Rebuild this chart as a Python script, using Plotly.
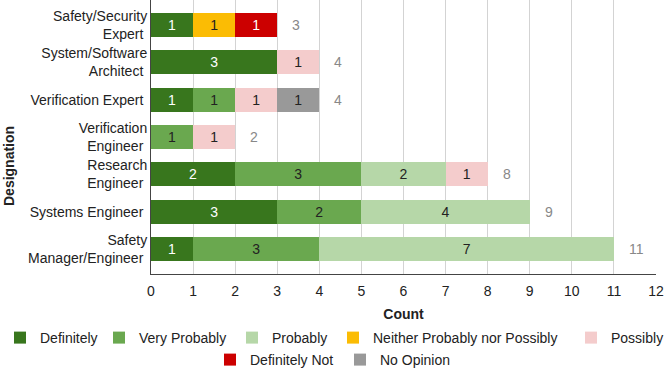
import plotly.graph_objects as go

designations = ['Safety/Security<br>Expert', 'System/Software<br>Architect', 'Verification Expert',
                'Verification<br>Engineer', 'Research<br>Engineer', 'Systems Engineer',
                'Safety<br>Manager/Engineer']
definitely = [1, 3, 1, 0, 2, 3, 1]
very_probably = [0, 0, 1, 1, 3, 2, 3]
probably = [0, 0, 0, 0, 2, 4, 7]
neither = [1, 0, 0, 0, 0, 0, 0]
possibly = [0, 1, 1, 1, 1, 0, 0]
definitely_not = [1, 0, 0, 0, 0, 0, 0]
no_opinion = [0, 0, 1, 0, 0, 0, 0]

series = [
    ('Definitely', definitely, '#38761d', 'white'),
    ('Very Probably', very_probably, '#6aa84f', '#222222'),
    ('Probably', probably, '#b6d7a8', '#222222'),
    ('Neither Probably nor Possibly', neither, '#fbbc04', '#222222'),
    ('Possibly', possibly, '#f4cccc', '#222222'),
    ('Definitely Not', definitely_not, '#cc0000', 'white'),
    ('No Opinion', no_opinion, '#999999', '#222222'),
]

# legend swatch positions (px) - one legend per entry, two centred rows
leg_left = [14, 113, 246, 347, 585, 224, 354]
leg_row = [338, 338, 338, 338, 338, 360, 360]

font = 'Arial, Liberation Sans, sans-serif'
W, H = 664, 368
L, R, T, B = 151, 8, 0, 94
pw, ph = W - L - R, H - T - B

fig = go.Figure()
legends = {}
for i, (name, vals, color, tcolor) in enumerate(series):
    key = 'legend' if i == 0 else f'legend{i + 1}'
    fig.add_trace(go.Bar(
        y=designations, x=vals, name=name, orientation='h',
        marker=dict(color=color, line=dict(width=0)),
        text=[str(v) if v else '' for v in vals], textposition='inside',
        insidetextanchor='middle', textangle=0,
        textfont=dict(color=tcolor, size=14, family=font),
        legend=key, showlegend=True, hoverinfo='skip'))
    legends[key] = dict(orientation='h', xref='container', x=(leg_left[i] - 14) / W,
                        xanchor='left', yref='container', y=1 - leg_row[i] / H,
                        yanchor='middle', bgcolor='rgba(0,0,0,0)',
                        font=dict(size=14, color='#222222'))

totals = [sum(t) for t in zip(definitely, very_probably, probably, neither,
                               possibly, definitely_not, no_opinion)]
for d, t in zip(designations, totals):
    fig.add_annotation(x=t, y=d, text=str(t), showarrow=False, xanchor='left',
                       xshift=13, font=dict(color='#888888', size=14, family=font))

fig.add_annotation(text='<b>Designation</b>', textangle=-90, showarrow=False,
                   xref='paper', yref='paper', x=(9 - L) / pw, y=1 - (166 - T) / ph,
                   xanchor='center', yanchor='middle', font=dict(size=14, color='#222222'))

fig.update_layout(
    barmode='stack', bargap=0.357, showlegend=True,
    width=W, height=H,
    margin=dict(l=L, r=R, t=T, b=B, autoexpand=False),
    plot_bgcolor='white', paper_bgcolor='white',
    font=dict(family=font, size=14, color='#222222'),
    xaxis=dict(range=[0, 12], dtick=1, showgrid=True, gridcolor='#d3d3d3', gridwidth=1,
               zeroline=False, showline=True, linecolor='#444444', linewidth=1,
               ticks='', ticklabelstandoff=4, tickfont=dict(size=14),
               title=dict(text='<b>Count</b>', font=dict(size=14), standoff=12)),
    yaxis=dict(categoryorder='array', categoryarray=designations,
               range=[6.67, -0.67], showgrid=False, zeroline=False,
               showline=True, linecolor='#444444', linewidth=1, ticks='',
               ticksuffix=' ', tickfont=dict(size=14)),
    **legends,
)

# drop the browser's default 8px body margin so the 664x368 figure fills the window
fig.write_html('out.html', config={'displayModeBar': False},
               post_script="document.body.style.margin='0';")
